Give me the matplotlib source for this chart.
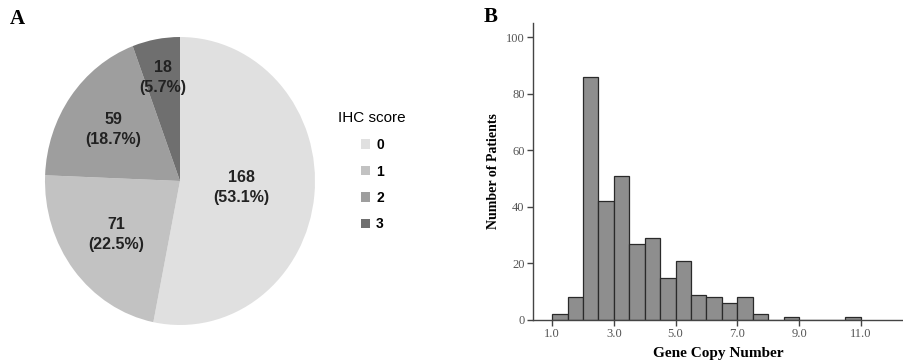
import matplotlib.pyplot as plt
import numpy as np

# panel A: IHC score distribution
ihc_scores = ['0', '1', '2', '3']
ihc_counts = [168, 71, 59, 18]
ihc_pct = ['53.1%', '22.5%', '18.7%', '5.7%']
pie_colors = ['#e0e0e0', '#c2c2c2', '#9e9e9e', '#6f6f6f']

# panel B: gene copy number histogram (bin left edges, width 0.5)
bin_lefts = [1.0, 1.5, 2.0, 2.5, 3.0, 3.5, 4.0, 4.5, 5.0, 5.5,
             6.0, 6.5, 7.0, 7.5, 8.0, 8.5, 9.0, 9.5, 10.0, 10.5]
patients = [2, 8, 86, 42, 51, 27, 29, 15, 21, 9,
            8, 6, 8, 2, 0, 1, 0, 0, 0, 1]
x_ticks = [1.0, 3.0, 5.0, 7.0, 9.0, 11.0]
y_ticks = [0, 20, 40, 60, 80, 100]

W, H = 904, 364
fig = plt.figure(figsize=(W / 100, H / 100), dpi=100)
sans = ['Liberation Sans', 'DejaVu Sans']

# ---- pie
ax1 = fig.add_axes([45 / W, 1 - 325 / H, 270 / W, 288 / H])
wedges, _ = ax1.pie(ihc_counts, colors=pie_colors, startangle=90,
                    counterclock=False, radius=1.0)
ax1.set_aspect('auto')
ax1.set_xlim(-1, 1)
ax1.set_ylim(-1, 1)
lab_r = [0.46, 0.60, 0.61, 0.73]
for w, n, p, r in zip(wedges, ihc_counts, ihc_pct, lab_r):
    mid = np.deg2rad((w.theta1 + w.theta2) / 2)
    ax1.text(r * np.cos(mid), r * np.sin(mid), f'{n}\n({p})',
             ha='center', va='center', fontsize=11.5, fontweight='bold',
             family=sans, color='#222222', linespacing=1.45)

leg = fig.legend(wedges, ihc_scores, title='IHC score',
                 loc='upper left', bbox_to_anchor=(326 / W, 1 - 99 / H),
                 frameon=False, handlelength=0.65, handleheight=0.65,
                 handletextpad=0.45, labelspacing=0.9,
                 prop={'family': sans, 'weight': 'bold', 'size': 10},
                 title_fontproperties={'family': sans, 'size': 11})

fig.text(10 / W, 1 - 19 / H, 'A', fontsize=15, fontweight='bold',
         family='Liberation Serif', va='center')

# ---- histogram
ax2 = fig.add_axes([533 / W, 1 - 320 / H, 371 / W, 297 / H])
ax2.bar(bin_lefts, patients, width=0.5, align='edge', color='#8e8e8e',
        edgecolor='#2a2a2a', linewidth=0.9)
ax2.set_xlim(0.38, 12.4)
ax2.set_ylim(0, 105)
ax2.set_xticks(x_ticks)
ax2.set_xticklabels([f'{t:.1f}' for t in x_ticks])
ax2.set_yticks(y_ticks)
for s in ['top', 'right']:
    ax2.spines[s].set_visible(False)
for s in ['left', 'bottom']:
    ax2.spines[s].set_color('#444444')
    ax2.spines[s].set_linewidth(1.0)
ax2.tick_params(axis='both', length=4, width=1.0, color='#444444',
                labelsize=9, labelcolor='#555555', pad=2)
for lab in ax2.get_xticklabels() + ax2.get_yticklabels():
    lab.set_family('Liberation Serif')
ax2.set_xlabel('Gene Copy Number', family='Liberation Serif',
               fontweight='bold', fontsize=11, labelpad=5)
ax2.set_ylabel('Number of Patients', family='Liberation Serif',
               fontweight='bold', fontsize=10, labelpad=4)

fig.text(484 / W, 1 - 17 / H, 'B', fontsize=15, fontweight='bold',
         family='Liberation Serif', va='center')

fig.savefig('out.png', dpi=100)
